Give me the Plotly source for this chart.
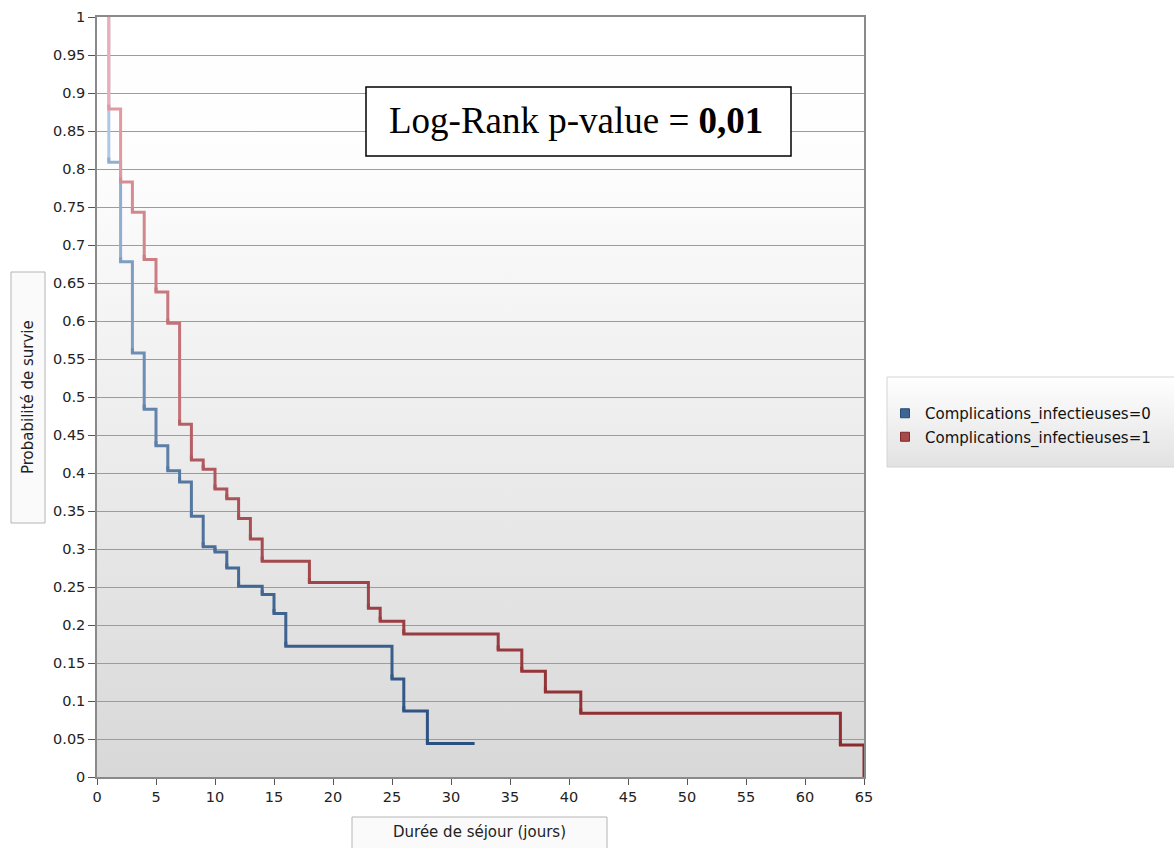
import base64
import plotly.graph_objects as go

# ---------------- data ----------------
group0_name = "Complications_infectieuses=0"
group0_time = [1, 1, 2, 3, 4, 5, 6, 7, 8, 9, 10, 11, 12, 14, 15, 16, 25, 26, 28, 32]
group0_surv = [1, 0.809, 0.678, 0.558, 0.484, 0.436, 0.403, 0.388, 0.343, 0.303,
               0.296, 0.275, 0.251, 0.240, 0.215, 0.172, 0.129, 0.087, 0.044, 0.044]

group1_name = "Complications_infectieuses=1"
group1_time = [1, 1, 2, 3, 4, 5, 6, 7, 8, 9, 10, 11, 12, 13, 14, 18, 23, 24, 26,
               34, 36, 38, 41, 63, 65]
group1_surv = [1, 0.879, 0.783, 0.743, 0.681, 0.638, 0.597, 0.464, 0.417, 0.405,
               0.379, 0.366, 0.340, 0.313, 0.284, 0.256, 0.222, 0.205, 0.188,
               0.167, 0.139, 0.112, 0.084, 0.042, 0.0]

y_tickvals = [0, 0.05, 0.1, 0.15, 0.2, 0.25, 0.3, 0.35, 0.4, 0.45, 0.5, 0.55,
              0.6, 0.65, 0.7, 0.75, 0.8, 0.85, 0.9, 0.95, 1]
y_ticktext = ["0", "0.05", "0.1", "0.15", "0.2", "0.25", "0.3", "0.35", "0.4",
              "0.45", "0.5", "0.55", "0.6", "0.65", "0.7", "0.75", "0.8", "0.85",
              "0.9", "0.95", "1"]
x_tickvals = [0, 5, 10, 15, 20, 25, 30, 35, 40, 45, 50, 55, 60, 65]

pvalue_text = "Log-Rank p-value = <b>0,01</b>"
x_title = "Durée de séjour (jours)"
y_title = "Probabilité de survie"

# ---------------- layout geometry ----------------
W, H = 1174, 848
L, R, T, B = 97, 864, 17, 777   # plot area in pixels


def px(x):
    return (x - L) / (R - L)


def py(y):
    return (B - y) / (B - T)


def lerp(c0, c1, t):
    return "rgb(%d,%d,%d)" % tuple(round(a + (b - a) * t) for a, b in zip(c0, c1))


BLUE_DARK, BLUE_LIGHT = (38, 76, 124), (172, 200, 230)
RED_DARK, RED_LIGHT = (138, 38, 42), (238, 172, 180)

fig = go.Figure()


def add_steps(times, surv, dark, light, group):
    # one trace per step, coloured by its level (vertical gradient look)
    n = len(times)
    for i in range(n - 1):
        xs = [times[i], times[i], times[i + 1], times[i + 1]]
        top = min(surv[i] + 0.006, 1.0) if i > 0 else surv[i]
        ys = [top, surv[i], surv[i], surv[i + 1]]
        fig.add_trace(go.Scatter(
            x=xs, y=ys, mode="lines",
            line=dict(color=lerp(dark, light, surv[i] ** 1.1), width=3),
            legendgroup=group, showlegend=False, hoverinfo="skip"))


add_steps(group0_time, group0_surv, BLUE_DARK, BLUE_LIGHT, "g0")
add_steps(group1_time, group1_surv, RED_DARK, RED_LIGHT, "g1")

# legend entries (square swatches)
fig.add_trace(go.Scatter(x=[None], y=[None], mode="markers", name=group0_name,
                         legendgroup="g0",
                         marker=dict(symbol="square", size=9, color="#3d6595",
                                     line=dict(color="#2a4a70", width=1))))
fig.add_trace(go.Scatter(x=[None], y=[None], mode="markers", name=group1_name,
                         legendgroup="g1",
                         marker=dict(symbol="square", size=9, color="#a84848",
                                     line=dict(color="#7a2a2a", width=1))))


def svg_gradient(stops, horizontal=False):
    x2, y2 = ("1", "0") if horizontal else ("0", "1")
    st = "".join('<stop offset="%s" stop-color="%s"/>' % s for s in stops)
    svg = ('<svg xmlns="http://www.w3.org/2000/svg" width="100" height="100" '
           'preserveAspectRatio="none"><defs><linearGradient id="g" x1="0" y1="0" '
           'x2="%s" y2="%s">%s</linearGradient></defs>'
           '<rect width="100" height="100" fill="url(#g)"/></svg>') % (x2, y2, st)
    return "data:image/svg+xml;base64," + base64.b64encode(svg.encode()).decode()


plot_bg = svg_gradient([("0", "#ffffff"), ("0.2", "#fdfdfd"), ("1", "#d8d8d8")])
legend_bg = svg_gradient([("0", "#ffffff"), ("1", "#e2e2e2")])

images = [
    dict(source=plot_bg, xref="paper", yref="paper", x=0, y=1, sizex=1, sizey=1,
         sizing="stretch", layer="below", xanchor="left", yanchor="top"),
    dict(source=legend_bg, xref="paper", yref="paper", x=px(887), y=py(377),
         sizex=px(1174) - px(887), sizey=py(377) - py(467), sizing="stretch",
         layer="below", xanchor="left", yanchor="top"),
]

shapes = [
    # legend frame
    dict(type="rect", xref="paper", yref="paper", x0=px(887), x1=px(1180),
         y0=py(467), y1=py(377), line=dict(color="#d4d4d4", width=1)),
    # y-title box
    dict(type="rect", xref="paper", yref="paper", x0=px(11), x1=px(45),
         y0=py(523), y1=py(272), line=dict(color="#b4b4b4", width=1),
         fillcolor="rgba(250,250,250,1)", layer="below"),
    # x-title box
    dict(type="rect", xref="paper", yref="paper", x0=px(352), x1=px(607),
         y0=py(852), y1=py(817), line=dict(color="#b4b4b4", width=1),
         fillcolor="rgba(250,250,250,1)", layer="below"),
    # p-value box
    dict(type="rect", xref="paper", yref="paper", x0=px(366), x1=px(791),
         y0=py(156), y1=py(87), line=dict(color="#000000", width=1.5),
         fillcolor="#ffffff"),
]

annotations = [
    dict(text=pvalue_text, xref="paper", yref="paper", x=px(576), y=py(121),
         showarrow=False, xanchor="center", yanchor="middle",
         font=dict(family="Liberation Serif", size=37, color="#000000")),
    dict(text=y_title, xref="paper", yref="paper", x=px(28), y=py(397),
         showarrow=False, textangle=-90, xanchor="center", yanchor="middle",
         font=dict(family="DejaVu Sans", size=15, color="#222222")),
    dict(text=x_title, xref="paper", yref="paper", x=px(479), y=py(832),
         showarrow=False, xanchor="center", yanchor="middle",
         font=dict(family="DejaVu Sans", size=15, color="#222222")),
]

tick_font = dict(family="DejaVu Sans", size=14.5, color="#222222")

fig.update_layout(
    width=W, height=H,
    margin=dict(l=L, r=W - R, t=T, b=H - B, autoexpand=False),
    paper_bgcolor="#ffffff",
    plot_bgcolor="rgba(0,0,0,0)",
    images=images, shapes=shapes, annotations=annotations,
    showlegend=True,
    legend=dict(x=px(885), y=py(397), xanchor="left", yanchor="top",
                bgcolor="rgba(0,0,0,0)", borderwidth=0, tracegroupgap=1,
                font=dict(family="DejaVu Sans", size=15, color="#111111")),
    xaxis=dict(range=[0, 65], tickvals=x_tickvals, showgrid=False,
               zeroline=False, showline=True, linecolor="#8a8a8a", linewidth=1.5,
               mirror=True, ticks="outside", ticklen=6, tickcolor="#555555",
               tickfont=tick_font),
    yaxis=dict(range=[0, 1], tickvals=y_tickvals, ticktext=y_ticktext,
               showgrid=True, gridcolor="#9c9c9c", gridwidth=1.3,
               zeroline=False, showline=True, linecolor="#8a8a8a", linewidth=1.5,
               mirror=True, ticks="outside", ticklen=7, tickcolor="#555555",
               tickfont=tick_font),
)

fig.write_html("out.html")
